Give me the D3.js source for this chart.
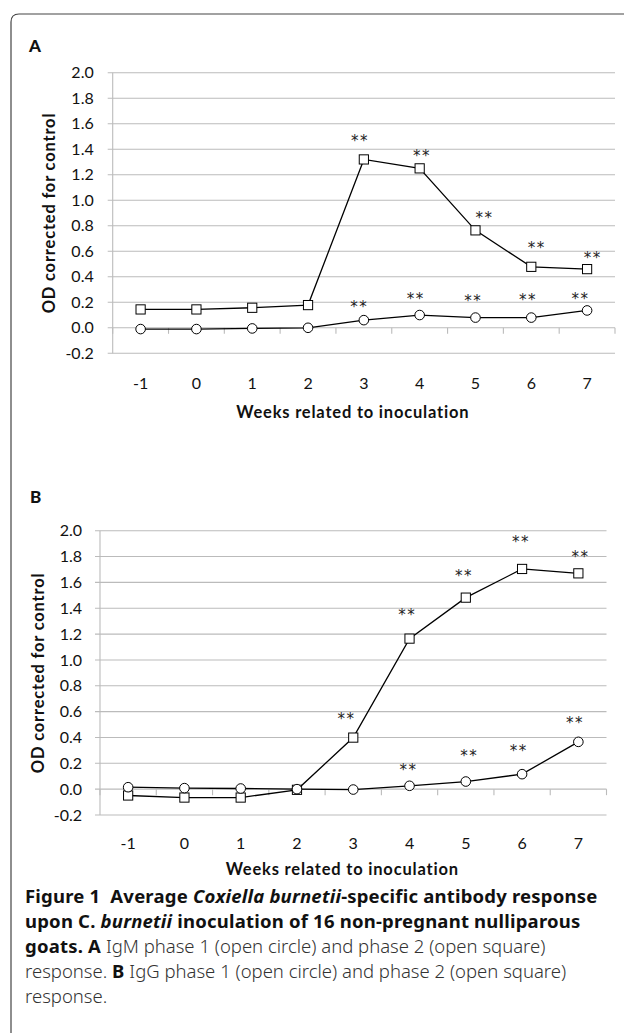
<!DOCTYPE html>
<html>
<head>
<meta charset="utf-8">
<script src="https://cdn.jsdelivr.net/npm/d3@7"></script>
<style>
  body { margin: 0; background: #fff; }
  svg { display: block; }
</style>
</head>
<body>
<div id="chart"></div>
<script>
// categories and tick values
var weeks = ["-1", "0", "1", "2", "3", "4", "5", "6", "7"];
var yTicks = [-0.2, 0, 0.2, 0.4, 0.6, 0.8, 1.0, 1.2, 1.4, 1.6, 1.8, 2.0];

// panel A : IgM
var igmPhase1 = [-0.01, -0.01, -0.005, 0.0, 0.06, 0.10, 0.08, 0.08, 0.136];
var igmPhase2 = [0.144, 0.144, 0.157, 0.178, 1.32, 1.25, 0.764, 0.478, 0.46];
// panel B : IgG
var iggPhase1 = [0.015, 0.008, 0.005, 0.0, -0.003, 0.026, 0.059, 0.116, 0.366];
var iggPhase2 = [-0.049, -0.065, -0.065, -0.005, 0.399, 1.165, 1.482, 1.704, 1.67];

// "**" significance marks, [week, value]
var igmStars2 = [[2.93, 1.49], [4.04, 1.37], [5.16, 0.89], [6.10, 0.65], [7.10, 0.57]];
var igmStars1 = [[2.92, 0.19], [3.93, 0.25], [4.96, 0.235], [5.94, 0.245], [6.88, 0.255]];
var iggStars2 = [[2.88, 0.57], [3.96, 1.37], [4.97, 1.675], [5.98, 1.935], [7.04, 1.825]];
var iggStars1 = [[3.98, 0.175], [5.06, 0.28], [5.94, 0.32], [6.94, 0.54]];

var yTitle = "OD corrected for control";
var xTitle = "Weeks related to inoculation";

var W = 624, H = 1033;
var chartFont = "Lato, 'Open Sans', sans-serif";
var capFont = "'Noto Sans', 'Open Sans', sans-serif";

var svg = d3.select("#chart")
  .append("svg")
  .attr("width", W)
  .attr("height", H);

// frame with rounded top-left corner
svg.append("path")
  .attr("d", "M11," + H + " L11,22 Q11,14 19,14 L" + W + ",14")
  .attr("fill", "none")
  .attr("stroke", "#444")
  .attr("stroke-width", 1.2);

function styleTick(sel) {
  sel.attr("fill", "#111")
    .style("font-family", chartFont)
    .style("font-size", "16px");
}

function drawPanel(cfg) {
  var width = cfg.width, height = cfg.height;
  var g = svg.append("g")
    .attr("transform", "translate(" + cfg.left + "," + cfg.top + ")");

  svg.append("text")
    .attr("x", cfg.letterX).attr("y", cfg.letterY)
    .style("font-family", chartFont)
    .style("font-size", "17px")
    .style("font-weight", 900)
    .attr("fill", "#111")
    .text(cfg.letter);

  var x = d3.scaleBand().domain(weeks).range([0, width]);
  var xl = d3.scaleLinear().domain([-1.5, 7.5]).range([0, width]);
  var y = d3.scaleLinear().domain([-0.2, 2.0]).range([height, 0]);

  // grid
  g.selectAll(".grid")
    .data(yTicks)
    .enter().append("line")
    .attr("x1", -5).attr("x2", width)
    .attr("y1", d => y(d)).attr("y2", d => y(d))
    .attr("stroke", "#bbb")
    .attr("stroke-width", 1.1);

  g.append("line")
    .attr("x1", 0).attr("x2", 0)
    .attr("y1", 0).attr("y2", height)
    .attr("stroke", "#bbb")
    .attr("stroke-width", 1.1);

  // category boundary ticks on the zero line
  var bounds = d3.range(weeks.length + 1).map(i => i * x.step());
  g.selectAll(".xt")
    .data(bounds)
    .enter().append("line")
    .attr("x1", d => d).attr("x2", d => d)
    .attr("y1", y(0)).attr("y2", y(0) + 6)
    .attr("stroke", "#bbb")
    .attr("stroke-width", 1.1);

  var yAxis = g.append("g")
    .call(d3.axisLeft(y).tickValues(yTicks)
      .tickFormat(d => d3.format(".1f")(d).replace("\u2212", "-"))
      .tickSize(0).tickPadding(cfg.yPad));
  yAxis.select(".domain").remove();
  styleTick(yAxis.selectAll("text"));

  var xAxis = g.append("g")
    .attr("transform", "translate(0," + height + ")")
    .call(d3.axisBottom(x).tickSize(0).tickPadding(cfg.xPad));
  xAxis.select(".domain").remove();
  styleTick(xAxis.selectAll("text"));

  g.append("text")
    .attr("text-anchor", "middle")
    .attr("x", width / 2 + cfg.xTitleDx)
    .attr("y", height + cfg.xTitleDy)
    .style("font-family", chartFont)
    .style("font-weight", "bold")
    .style("font-size", "16.5px")
    .style("letter-spacing", "0.8px")
    .attr("fill", "#111")
    .text(xTitle);

  g.append("text")
    .attr("text-anchor", "middle")
    .attr("transform", "translate(" + cfg.yTitleX + "," + (height / 2) + ") rotate(-90)")
    .style("font-family", chartFont)
    .style("font-weight", "bold")
    .style("font-size", "16.5px")
    .style("letter-spacing", "0.8px")
    .attr("fill", "#111")
    .text(yTitle);

  var line = d3.line()
    .x((d, i) => x(weeks[i]) + x.bandwidth() / 2)
    .y(d => y(d));

  [cfg.phase1, cfg.phase2].forEach(function(s) {
    g.append("path")
      .datum(s)
      .attr("d", line)
      .attr("fill", "none")
      .attr("stroke", "#000")
      .attr("stroke-width", 1.3);
  });

  g.selectAll(".sq")
    .data(cfg.phase2)
    .enter().append("rect")
    .attr("x", (d, i) => x(weeks[i]) + x.bandwidth() / 2 - 4.6)
    .attr("y", d => y(d) - 4.6)
    .attr("width", 9.2).attr("height", 9.2)
    .attr("fill", "#fff")
    .attr("stroke", "#000")
    .attr("stroke-width", 1);

  g.selectAll(".ci")
    .data(cfg.phase1)
    .enter().append("circle")
    .attr("cx", (d, i) => x(weeks[i]) + x.bandwidth() / 2)
    .attr("cy", d => y(d))
    .attr("r", 4.8)
    .attr("fill", "#fff")
    .attr("stroke", "#000")
    .attr("stroke-width", 1);

  g.selectAll(".star")
    .data(cfg.stars1.concat(cfg.stars2))
    .enter().append("text")
    .attr("x", d => xl(d[0]))
    .attr("y", d => y(d[1]))
    .attr("dy", "0.55em")
    .attr("text-anchor", "middle")
    .style("font-family", "'DejaVu Sans', sans-serif")
    .style("font-size", "15px")
    .style("letter-spacing", "1.5px")
    .attr("fill", "#222")
    .text("**");
}

drawPanel({
  letter: "A", letterX: 29, letterY: 52,
  left: 112.7, top: 72.7, width: 502.3, height: 280.6,
  yPad: 19, xPad: 24, yTitleX: -58, xTitleDx: -11, xTitleDy: 65,
  phase1: igmPhase1, phase2: igmPhase2, stars1: igmStars1, stars2: igmStars2
});

drawPanel({
  letter: "B", letterX: 30, letterY: 503,
  left: 100, top: 530.7, width: 506.5, height: 284.3,
  yPad: 18, xPad: 23, yTitleX: -56.5, xTitleDx: -11, xTitleDy: 60,
  phase1: iggPhase1, phase2: iggPhase2, stars1: iggStars1, stars2: iggStars2
});

// caption
var capLines = [
  [["Figure 1  Average ", "b"], ["Coxiella burnetii", "bi"], ["-specific antibody response", "b"]],
  [["upon C. ", "b"], ["burnetii", "bi"], [" inoculation of 16 non-pregnant nulliparous", "b"]],
  [["goats. A", "b"], [" IgM phase 1 (open circle) and phase 2 (open square)", "n"]],
  [["response. ", "n"], ["B", "b"], [" IgG phase 1 (open circle) and phase 2 (open square)", "n"]],
  [["response.", "n"]]
];

var cap = svg.append("g");
capLines.forEach(function(parts, li) {
  var t = cap.append("text")
    .attr("x", 25)
    .attr("y", 903 + li * 25)
    .style("font-family", capFont)
    .style("font-size", "18.5px")
    .style("white-space", "pre");
  parts.forEach(function(p) {
    var bold = p[1].indexOf("b") >= 0;
    t.append("tspan")
      .style("font-weight", bold ? 700 : 300)
      .style("font-style", p[1].indexOf("i") >= 0 ? "italic" : "normal")
      .style("letter-spacing", bold ? "0.2px" : "0px")
      .attr("fill", bold ? "#111" : "#333")
      .text(p[0]);
  });
});
</script>
</body>
</html>
